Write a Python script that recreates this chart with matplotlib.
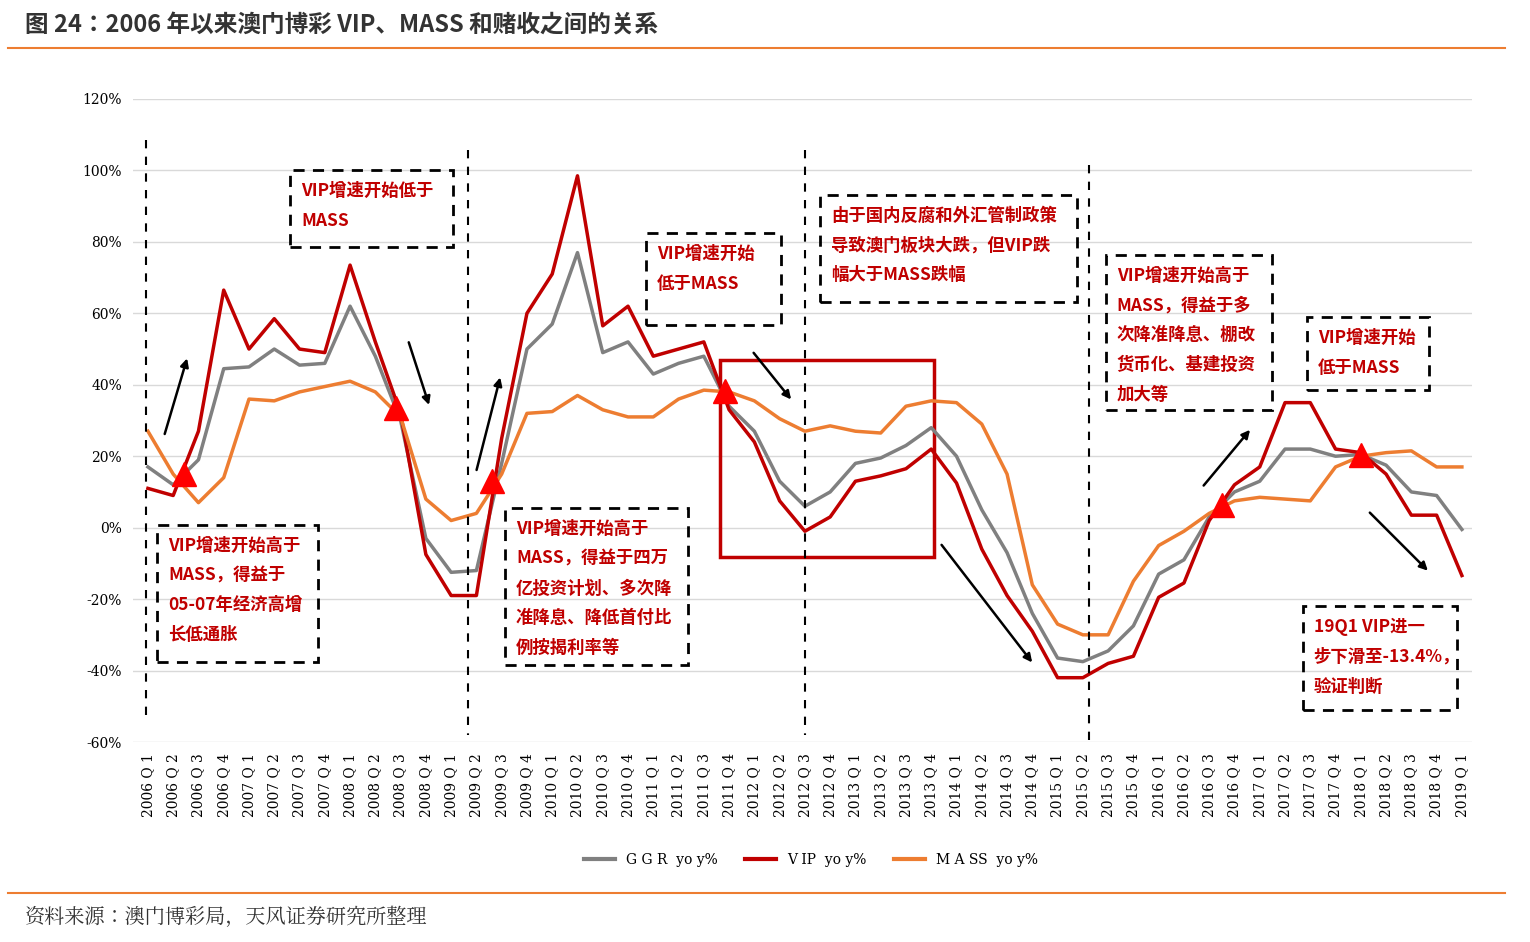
import matplotlib.pyplot as plt
from matplotlib import font_manager
from matplotlib.font_manager import FontProperties
from matplotlib.patches import Rectangle
from matplotlib.lines import Line2D

cjk_fonts = [f for f in font_manager.fontManager.ttflist if "CJK" in f.name]
sc = [f for f in cjk_fonts if "SC" in f.name] or cjk_fonts


def pick(weight):
    w = lambda f: f.weight if isinstance(f.weight, int) else 400
    return min(sc, key=lambda f: abs(w(f) - weight)).fname


BOLD = FontProperties(fname=pick(700))
REG = FontProperties(fname=pick(400))

# quarters 2006Q1 .. 2019Q1
years = list(range(2006, 2020))
quarters = [f"{y} Q {q}" for y in years for q in range(1, 5)][:53]

ggr = [17, 12, 19, 44.5, 45, 50, 45.5, 46, 62, 48, 30, -3, -12.5, -12, 18, 50,
       57, 77, 49, 52, 43, 46, 48, 34, 27, 13, 6, 10, 18, 19.5, 23, 28,
       20, 5, -7, -24, -36.5, -37.5, -34.5, -27.5, -13, -9, 3, 10, 13, 22, 22, 20,
       20.5, 17.5, 10, 9, -0.5]
vip = [11, 9, 27, 66.5, 50, 58.5, 50, 49, 73.5, 52, 32, -7.5, -19, -19, 25, 60,
       71, 98.5, 56.5, 62, 48, 50, 52, 33, 24, 7.5, -1, 3, 13, 14.5, 16.5, 22,
       12.5, -6, -19, -29, -42, -42, -38, -36, -19.5, -15.5, 2, 12, 17, 35, 35, 22,
       21, 15, 3.5, 3.5, -13.4]
mass = [27, 15, 7, 14, 36, 35.5, 38, 39.5, 41, 38, 31, 8, 2, 4, 15, 32,
        32.5, 37, 33, 31, 31, 36, 38.5, 38, 35.5, 30.5, 27, 28.5, 27, 26.5, 34, 35.5,
        35, 29, 15, -16, -27, -30, -30, -15, -5, -1, 4, 7.5, 8.5, 8, 7.5, 17,
        20, 21, 21.5, 17, 17]

RED = "#C00000"
GREY = "#808080"
ORANGE = "#ED7D31"

fig = plt.figure(figsize=(15.3, 9.42), dpi=100)
ax = fig.add_axes([133 / 1530, 1 - 742 / 942, (1472 - 133) / 1530, 643 / 942])


def px(x, y):
    # reference pixel -> data coords
    return (x - 148) / 25.27, (528 - y) / 3.572


xs = range(len(quarters))
ax.plot(xs, ggr, color=GREY, lw=2.5)
ax.plot(xs, vip, color=RED, lw=2.5)
ax.plot(xs, mass, color=ORANGE, lw=2.5)

ax.set_xlim(-0.59, 52.4)
ax.set_ylim(-60, 120)
ax.set_yticks(range(-60, 121, 20))
ax.set_yticklabels([f"{v}%" for v in range(-60, 121, 20)], fontsize=10, family="DejaVu Serif")
ax.set_xticks(list(xs))
ax.set_xticklabels(quarters, rotation=90, fontsize=10, family="DejaVu Serif")
ax.grid(axis="y", color="#d9d9d9", lw=1)
ax.set_axisbelow(True)
for s in ax.spines.values():
    s.set_visible(False)
ax.tick_params(length=0, pad=8)

# vertical dashed dividers
for x0, y0, y1 in [(146, 140, 720), (468, 150, 735), (805, 150, 735), (1089, 165, 745)]:
    a, b = px(x0, y0)
    _, c = px(x0, y1)
    ax.plot([a, a], [b, c], color="black", lw=1.5, ls=(0, (4, 4)))

# red rectangle
a, b = px(720, 557)
c, d = px(934, 360)
ax.add_patch(Rectangle((a, b), c - a, d - b, fill=False, ec=RED, lw=2.5))

# dashed text boxes
boxes = [
    ((290, 170, 453, 247), "VIP增速开始低于\nMASS"),
    ((157, 525, 318, 662), "VIP增速开始高于\nMASS，得益于\n05-07年经济高增\n长低通胀"),
    ((505, 508, 688, 665), "VIP增速开始高于\nMASS，得益于四万\n亿投资计划、多次降\n准降息、降低首付比\n例按揭利率等"),
    ((646, 233, 781, 325), "VIP增速开始\n低于MASS"),
    ((820, 195, 1077, 302), "由于国内反腐和外汇管制政策\n导致澳门板块大跌，但VIP跌\n幅大于MASS跌幅"),
    ((1106, 255, 1272, 410), "VIP增速开始高于\nMASS，得益于多\n次降准降息、棚改\n货币化、基建投资\n加大等"),
    ((1307, 317, 1429, 390), "VIP增速开始\n低于MASS"),
    ((1303, 606, 1457, 710), "19Q1 VIP进一\n步下滑至-13.4%，\n验证判断"),
]
for (x0, y0, x1, y1), txt in boxes:
    a, b = px(x0, y1)
    c, d = px(x1, y0)
    ax.add_patch(Rectangle((a, b), c - a, d - b, fill=False, ec="black", lw=2, ls=(0, (4, 3))))
    tx, ty = px(x0 + 11, y0 + 12)
    ax.text(tx, ty, txt, color=RED, fontproperties=BOLD, fontsize=12.5, va="top", ha="left",
            linespacing=1.85)

# arrows
for x0, y0, x1, y1 in [(164, 437, 188, 356), (408, 340, 430, 408), (476, 473, 501, 375),
                       (752, 351, 793, 402), (940, 543, 1034, 665), (1202, 488, 1252, 428),
                       (1368, 511, 1430, 573)]:
    ax.annotate("", xy=px(x1, y1), xytext=px(x0, y0),
                arrowprops=dict(arrowstyle="-|>", color="black", lw=1.8, mutation_scale=12))

# crossover markers
for x0, y0 in [(184, 474), (396, 408), (492, 481), (725, 391), (1222, 505), (1361, 455)]:
    a, b = px(x0, y0)
    ax.plot(a, b, marker="^", color="#FF0000", ms=17, zorder=5)

handles = [Line2D([], [], color=c, lw=3) for c in (GREY, RED, ORANGE)]
fig.legend(handles, ["G G R  yo y%", "V IP  yo y%", "M A SS  yo y%"], loc="center",
           bbox_to_anchor=(0.53, 1 - 860 / 942), ncol=3, frameon=False,
           handlelength=2.2, columnspacing=2, prop={"family": "DejaVu Serif", "size": 10})

fig.text(25 / 1530, 1 - 26 / 942, "图 24：2006 年以来澳门博彩 VIP、MASS 和赌收之间的关系",
         fontproperties=BOLD, fontsize=17, color="#333333", va="center")
fig.add_artist(Line2D([8 / 1530, 1505 / 1530], [1 - 48 / 942] * 2, color=ORANGE, lw=1.5))
fig.add_artist(Line2D([8 / 1530, 1505 / 1530], [1 - 893 / 942] * 2, color=ORANGE, lw=1.5))
fig.text(25 / 1530, 1 - 917 / 942, "资料来源：澳门博彩局，天风证券研究所整理",
         fontproperties=REG, fontsize=14.5, color="#333333", va="center")

fig.savefig("out.png", dpi=100)
